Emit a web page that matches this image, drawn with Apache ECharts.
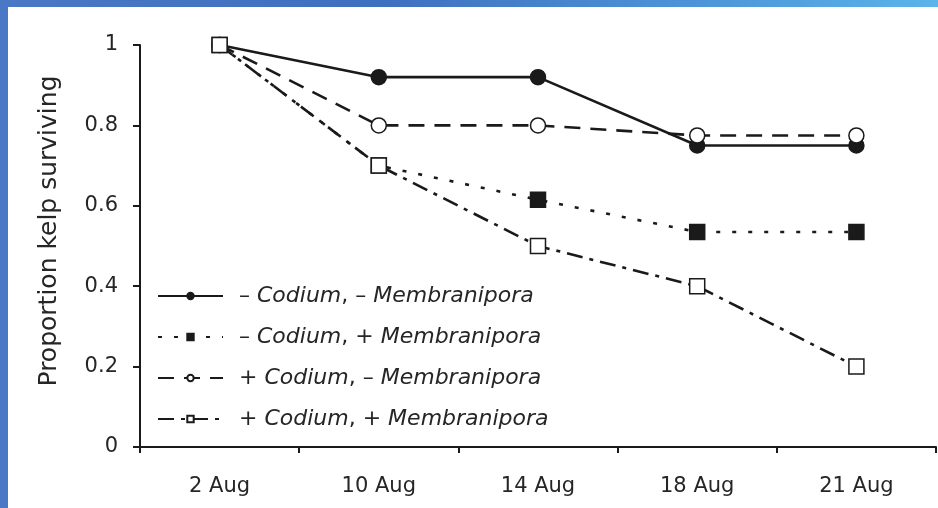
<!DOCTYPE html>
<html>
<head>
<meta charset="utf-8">
<script src="https://cdn.jsdelivr.net/npm/echarts@6/dist/echarts.min.js"></script>
<style>
  html, body { margin: 0; padding: 0; }
  body {
    width: 938px; height: 508px; overflow: hidden; position: relative;
    background: linear-gradient(90deg, #4a78c6 0%, #3f6fbf 40%, #4d95d8 75%, #5bb4ea 100%);
  }
  #chart { position: absolute; left: 8px; top: 7px; width: 930px; height: 501px; background: #fff; }
</style>
</head>
<body>
<div id="chart"></div>
<script>
const dates = ['2 Aug', '10 Aug', '14 Aug', '18 Aug', '21 Aug'];
const yTicks = ['0', '0.2', '0.4', '0.6', '0.8', '1'];

const seriesNames = [
    '– Codium, – Membranipora',
    '– Codium, + Membranipora',
    '+ Codium, – Membranipora',
    '+ Codium, + Membranipora'
];
const noCodiumNoMemb = [1, 0.92, 0.92, 0.75, 0.75];
const noCodiumMemb = [1, 0.70, 0.615, 0.535, 0.535];
const codiumNoMemb = [1, 0.80, 0.80, 0.775, 0.775];
const codiumMemb = [1, 0.70, 0.50, 0.40, 0.20];

const ink = '#1a1a1a';
const textInk = '#262626';
const font = '"DejaVu Sans", "Liberation Sans", Arial, sans-serif';

const chart = echarts.init(document.getElementById('chart'));

const makeSeries = (name, data, symbol, filled, lineType, z) => ({
    name: name,
    type: 'line',
    data: data,
    symbol: symbol,
    symbolSize: 15,
    showSymbol: true,
    z: z,
    itemStyle: {
        color: filled ? ink : '#fff',
        borderColor: ink,
        borderWidth: 1.5
    },
    lineStyle: {
        color: ink,
        width: 2.6,
        type: lineType
    },
    emphasis: {disabled: true}
});

const options = {
    animation: false,
    textStyle: {fontFamily: font},
    grid: {
        left: 132,
        top: 38,
        right: 2,
        bottom: 61
    },
    legend: {
        orient: 'vertical',
        left: 144,
        top: 273,
        itemWidth: 65,
        itemHeight: 8,
        itemGap: 19,
        data: seriesNames,
        formatter: (name) => name.replace(/(Codium|Membranipora)/g, '{i|$1}'),
        textStyle: {
            fontFamily: font,
            fontSize: 22,
            color: textInk,
            padding: [0, 0, 0, 11],
            rich: {
                i: {fontFamily: font, fontSize: 22, fontStyle: 'italic', color: textInk}
            }
        }
    },
    xAxis: {
        type: 'category',
        data: dates,
        boundaryGap: true,
        axisLine: {lineStyle: {color: ink, width: 2}},
        axisTick: {show: true, length: 6, lineStyle: {color: ink, width: 2}},
        axisLabel: {
            fontFamily: font,
            fontSize: 21,
            color: textInk,
            margin: 29
        }
    },
    yAxis: {
        type: 'value',
        min: 0,
        max: 1,
        interval: 0.2,
        name: 'Proportion kelp surviving',
        nameLocation: 'middle',
        nameGap: 78,
        nameTextStyle: {fontFamily: font, fontSize: 25, color: textInk, padding: [0, 0, 0, 30]},
        axisLine: {show: true, lineStyle: {color: ink, width: 2}},
        axisTick: {show: true, length: 7, lineStyle: {color: ink, width: 2}},
        splitLine: {show: false},
        axisLabel: {
            fontFamily: font,
            fontSize: 21,
            color: textInk,
            margin: 22,
            formatter: (v) => yTicks[Math.round(v / 0.2)]
        }
    },
    series: [
        makeSeries(seriesNames[0], noCodiumNoMemb, 'circle', true, 'solid', 4),
        makeSeries(seriesNames[1], noCodiumMemb, 'rect', true, [4, 12], 3),
        makeSeries(seriesNames[2], codiumNoMemb, 'circle', false, [16, 10], 5),
        makeSeries(seriesNames[3], codiumMemb, 'rect', false, [16, 7, 4, 7], 6)
    ]
};

chart.setOption(options);
</script>
</body>
</html>
